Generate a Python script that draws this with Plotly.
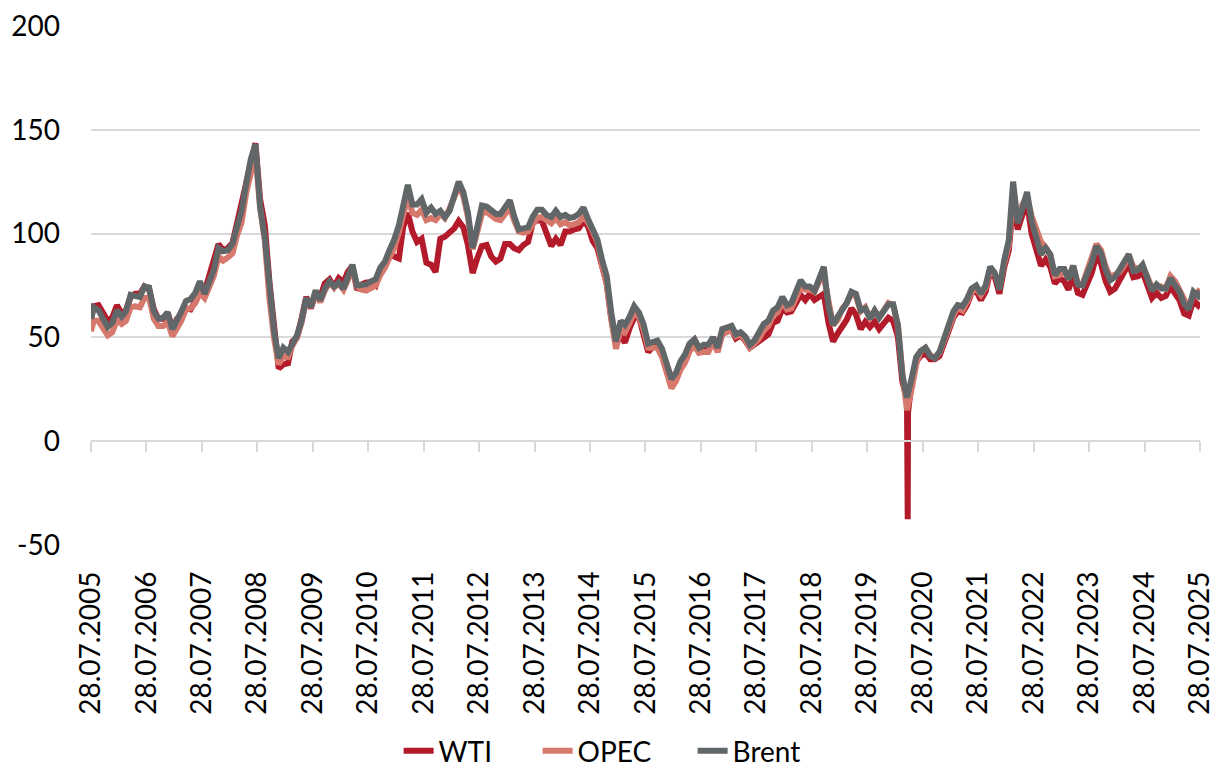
import pandas as pd
import plotly.graph_objects as go

# Monthly crude oil prices, USD per barrel.
# First value: 28.07.2005, then mid-month Aug 2005 .. Jul 2025, last value: 28.07.2025.
brent = [
    59.0, 64.5, 63.0, 58.5, 55.0, 57.0,                                          # 2005
    63.0, 60.0, 62.5, 70.5, 70.0, 69.5, 74.5, 74.0, 62.5, 59.0, 59.5, 62.0,      # 2006
    54.0, 58.0, 62.5, 67.5, 68.5, 71.5, 77.0, 71.0, 77.5, 82.5, 93.0, 91.5,      # 2007
    92.0, 95.0, 103.0, 111.0, 124.0, 136.0, 143.0, 113.0, 98.0, 73.0, 53.0, 40.0,  # 2008
    45.0, 43.0, 47.5, 51.0, 58.0, 69.0, 64.5, 72.5, 68.0, 73.5, 77.0, 74.5,      # 2009
    76.5, 73.5, 79.0, 85.0, 75.0, 75.0, 75.5, 77.0, 78.0, 83.5, 86.5, 92.0,      # 2010
    97.0, 104.0, 115.0, 123.5, 114.0, 114.0, 116.5, 110.0, 112.5, 109.5, 111.0, 108.0,  # 2011
    111.0, 119.5, 125.0, 120.0, 110.0, 93.0, 103.0, 113.5, 113.0, 111.5, 109.5, 109.5,  # 2012
    112.5, 116.0, 108.5, 102.0, 102.5, 103.0, 108.0, 111.5, 111.5, 109.0, 108.0, 111.0,  # 2013
    108.0, 109.0, 107.5, 108.0, 109.5, 112.5, 107.0, 102.0, 97.0, 87.5, 79.5, 62.0,     # 2014
    48.0, 58.0, 56.0, 60.0, 65.0, 62.0, 56.5, 47.0, 48.0, 48.5, 44.5, 38.0,      # 2015
    30.0, 33.0, 38.5, 42.0, 47.0, 49.0, 45.0, 46.5, 46.5, 50.0, 45.0, 54.0,      # 2016
    55.0, 55.5, 51.5, 52.5, 50.5, 46.5, 48.5, 52.0, 56.5, 58.0, 63.0, 64.5,      # 2017
    69.5, 65.5, 66.5, 72.0, 77.5, 74.5, 74.5, 72.5, 79.0, 84.0, 65.0, 56.0,      # 2018
    60.0, 64.0, 66.5, 72.0, 71.0, 63.0, 64.0, 59.0, 63.0, 59.5, 63.0, 66.0,      # 2019
    66.0, 56.0, 32.0, 21.0, 30.0, 40.5, 43.5, 45.0, 41.0, 40.0, 43.0, 50.0,      # 2020
    55.0, 62.5, 65.5, 65.0, 68.5, 73.5, 75.0, 71.0, 75.0, 84.0, 81.0, 73.0,      # 2021
    87.0, 97.0, 125.0, 105.0, 112.0, 120.0, 106.0, 99.0, 90.0, 93.0, 90.0, 80.0,  # 2022
    83.0, 83.0, 78.0, 84.5, 75.5, 75.0, 80.5, 86.0, 94.0, 90.5, 82.5, 77.5,      # 2023
    79.0, 83.0, 85.5, 90.0, 82.0, 82.5, 85.0, 79.5, 72.5, 75.5, 73.5, 73.5,      # 2024
    78.5, 75.0, 72.0, 66.0, 63.5, 72.0, 70.0, 72.5,                              # 2025
]

wti = [
    58.5, 65.0, 65.5, 62.0, 58.0, 59.5,                                          # 2005
    65.5, 61.5, 63.0, 69.5, 71.0, 71.0, 74.5, 73.0, 63.5, 59.0, 59.0, 62.0,      # 2006
    54.0, 59.0, 60.5, 64.0, 63.5, 67.5, 74.5, 72.0, 80.0, 86.0, 95.0, 92.0,      # 2007
    93.0, 95.5, 105.0, 113.0, 125.5, 134.5, 143.5, 116.5, 104.0, 77.0, 57.0, 35.0,  # 2008
    37.0, 37.5, 48.0, 50.0, 59.0, 69.5, 64.0, 71.0, 69.5, 76.0, 78.0, 74.5,      # 2009
    78.5, 76.5, 81.5, 84.5, 73.0, 75.5, 76.5, 76.5, 75.0, 82.0, 84.5, 89.5,      # 2010
    89.0, 88.0, 103.0, 110.0, 101.0, 96.0, 97.5, 86.0, 85.0, 81.5, 97.5, 98.5,   # 2011
    100.5, 102.5, 106.0, 103.0, 94.5, 81.0, 88.0, 94.0, 94.5, 89.0, 86.5, 88.0,  # 2012
    95.0, 95.0, 93.0, 92.0, 94.5, 96.0, 105.0, 106.5, 106.0, 100.5, 94.0, 97.5,  # 2013
    94.5, 101.0, 101.0, 102.0, 102.5, 106.0, 103.5, 96.5, 93.0, 84.5, 76.0, 59.0,  # 2014
    47.0, 50.5, 47.5, 54.5, 59.5, 60.0, 51.0, 43.0, 45.5, 46.5, 42.5, 37.0,      # 2015
    30.5, 30.0, 37.5, 41.0, 47.0, 49.0, 44.5, 44.5, 45.0, 50.0, 45.5, 52.0,      # 2016
    52.5, 53.5, 49.5, 51.0, 48.5, 45.0, 46.5, 48.0, 50.0, 51.5, 57.0, 58.0,      # 2017
    64.0, 62.0, 62.5, 66.5, 70.5, 68.0, 71.0, 68.0, 70.0, 71.0, 57.0, 48.0,      # 2018
    52.0, 55.0, 58.5, 64.0, 61.0, 54.0, 57.5, 55.0, 57.5, 54.0, 57.0, 59.5,      # 2019
    58.0, 50.5, 29.0, 20.0, 28.5, 38.5, 41.0, 42.5, 39.5, 39.5, 41.0, 47.0,      # 2020
    52.0, 59.5, 62.5, 62.0, 65.5, 71.5, 72.5, 68.0, 72.0, 81.5, 79.0, 71.0,      # 2021
    83.5, 92.0, 115.0, 102.0, 109.0, 115.0, 100.0, 93.0, 84.5, 87.5, 84.0, 76.0,  # 2022
    78.5, 77.0, 73.0, 80.0, 71.5, 70.5, 76.5, 81.0, 89.5, 85.5, 77.0, 72.0,      # 2023
    73.5, 77.5, 81.0, 85.5, 79.0, 79.5, 81.5, 76.0, 69.0, 71.5, 69.0, 70.0,      # 2024
    74.5, 71.0, 68.0, 61.5, 60.5, 68.0, 65.5, 67.0,                              # 2025
]

# WTI May-2020 contract expiry: the settlement went negative for one session
wti_event_dates = ["2020-04-20", "2020-04-22"]
wti_event_values = [-37.6, 13.8]

opec = [
    53.0, 58.0, 58.0, 54.5, 51.0, 52.5,                                          # 2005
    58.5, 56.5, 58.0, 64.5, 65.0, 64.5, 69.0, 69.0, 59.0, 55.5, 55.5, 57.5,      # 2006
    50.5, 54.5, 58.0, 63.5, 64.0, 66.5, 71.5, 69.0, 74.5, 79.5, 89.0, 87.0,      # 2007
    88.5, 90.5, 99.0, 105.5, 119.5, 130.0, 138.5, 112.5, 96.5, 69.0, 49.5, 37.0,  # 2008
    41.0, 40.5, 46.0, 50.0, 57.0, 68.5, 64.5, 71.5, 67.0, 72.5, 76.5, 74.0,      # 2009
    76.0, 73.0, 77.0, 82.5, 74.5, 73.0, 72.5, 74.0, 75.0, 80.0, 83.5, 88.5,      # 2010
    93.0, 100.5, 110.0, 118.0, 110.0, 109.0, 111.5, 106.5, 107.5, 106.5, 109.5, 107.5,  # 2011
    112.0, 117.5, 123.0, 118.0, 108.0, 92.5, 100.0, 109.5, 110.5, 108.5, 107.0, 106.5,  # 2012
    109.5, 112.5, 106.5, 101.0, 100.5, 101.0, 104.5, 107.5, 108.0, 106.5, 105.0, 107.5,  # 2013
    104.5, 105.5, 104.0, 104.5, 105.5, 108.0, 105.5, 101.0, 96.0, 85.0, 75.5, 59.0,     # 2014
    44.5, 54.0, 52.5, 57.0, 62.0, 60.0, 54.0, 45.0, 45.0, 45.0, 40.5, 33.5,      # 2015
    25.5, 29.0, 34.5, 38.0, 43.5, 46.0, 42.5, 43.0, 43.0, 48.0, 43.0, 51.5,      # 2016
    52.5, 53.5, 50.5, 51.5, 49.0, 45.0, 47.0, 49.5, 53.5, 55.5, 60.5, 62.0,      # 2017
    67.0, 63.5, 64.0, 68.5, 74.0, 73.0, 73.0, 72.0, 77.0, 79.5, 65.5, 56.0,      # 2018
    58.5, 64.0, 66.5, 71.0, 70.0, 62.5, 64.5, 59.5, 62.5, 60.0, 63.0, 66.5,      # 2019
    65.5, 56.0, 33.5, 15.0, 25.0, 37.0, 43.5, 45.0, 41.5, 40.0, 42.5, 49.0,      # 2020
    54.5, 60.5, 64.5, 63.0, 67.0, 72.0, 73.5, 70.5, 74.0, 82.0, 80.5, 74.0,      # 2021
    85.5, 94.5, 118.0, 106.0, 114.0, 118.0, 108.5, 102.0, 96.0, 93.5, 89.5, 79.5,  # 2022
    80.0, 81.5, 78.5, 84.5, 76.0, 75.5, 81.5, 87.0, 95.0, 92.0, 84.0, 79.0,      # 2023
    80.0, 81.5, 84.5, 89.5, 84.0, 83.0, 84.5, 80.0, 74.0, 74.5, 74.5, 73.5,      # 2024
    79.5, 77.0, 73.0, 67.5, 64.0, 71.0, 71.5, 73.5,                              # 2025
]

tick_years = list(range(2005, 2026))
tick_dates = [f"{y}-07-28" for y in tick_years]
tick_labels = [f"28.07.{y}" for y in tick_years]

y_ticks = [-50, 0, 50, 100, 150, 200]
y_labels = ["-50", "0", "50", "100", "150", "200"]

# Observation dates: 28.07.2005, the 15th of every month, 28.07.2025
mid_months = pd.date_range("2005-08-01", "2025-07-01", freq="MS") + pd.Timedelta(days=14)
dates = [pd.Timestamp("2005-07-28")] + list(mid_months) + [pd.Timestamp("2025-07-28")]
assert len(dates) == len(brent) == len(wti) == len(opec)

wti_series = pd.Series(wti, index=dates)
wti_series = pd.concat([wti_series, pd.Series(wti_event_values, index=pd.to_datetime(wti_event_dates))]).sort_index()

COL_WTI = "#B31B2B"
COL_OPEC = "#D6796C"
COL_BRENT = "#616668"
GRID = "#D9D9D9"
FONT = "Lato"
LW = 6

fig = go.Figure()
fig.add_trace(go.Scatter(x=wti_series.index, y=wti_series.values, name="WTI", mode="lines",
                         line=dict(color=COL_WTI, width=LW), legendwidth=94))
fig.add_trace(go.Scatter(x=dates, y=opec, name="OPEC", mode="lines",
                         line=dict(color=COL_OPEC, width=LW), legendwidth=110))
fig.add_trace(go.Scatter(x=dates, y=brent, name="Brent", mode="lines",
                         line=dict(color=COL_BRENT, width=LW), legendwidth=86))
# carrier trace for the tick axis drawn along the zero line
fig.add_trace(go.Scatter(x=[tick_dates[0], tick_dates[-1]], y=[None, None], xaxis="x2",
                         mode="lines", showlegend=False, hoverinfo="skip"))

# a few hours of slack so the 2025 tick stays inside the range
x_range = ["2005-07-28", "2025-07-28 06:00"]

fig.update_layout(
    width=1214, height=768,
    margin=dict(l=91, r=14, t=26, b=223, autoexpand=False),
    plot_bgcolor="white", paper_bgcolor="white",
    font=dict(family=FONT, size=28, color="#000000"),
    legend=dict(orientation="h", x=0.469, xanchor="center", y=0.022, yanchor="middle",
                yref="container", font=dict(family=FONT, size=28, color="#000000"),
                tracegroupgap=0),
    xaxis=dict(type="date", range=x_range, tickmode="array", tickvals=tick_dates,
               ticktext=tick_labels, tickangle=-90, ticks="", showgrid=False,
               showline=False, zeroline=False, ticklabelstandoff=20, automargin=False,
               ticklabeloverflow="allow",
               tickfont=dict(family=FONT, size=28, color="#000000")),
    xaxis2=dict(type="date", range=x_range, overlaying="x", anchor="free", position=0.2,
                side="bottom", tickmode="array", tickvals=tick_dates, showticklabels=False,
                ticks="outside", ticklen=10, tickwidth=2, tickcolor=GRID,
                showline=True, linecolor=GRID, linewidth=2, showgrid=False,
                zeroline=False, automargin=False),
    yaxis=dict(range=[-50, 200], tickmode="array", tickvals=y_ticks, ticktext=y_labels,
               showgrid=True, gridcolor=GRID, gridwidth=1.5, zeroline=False,
               showline=False, ticks="", ticklabelstandoff=30, automargin=False,
               tickfont=dict(family=FONT, size=28, color="#000000")),
)

fig.write_html("out.html")
